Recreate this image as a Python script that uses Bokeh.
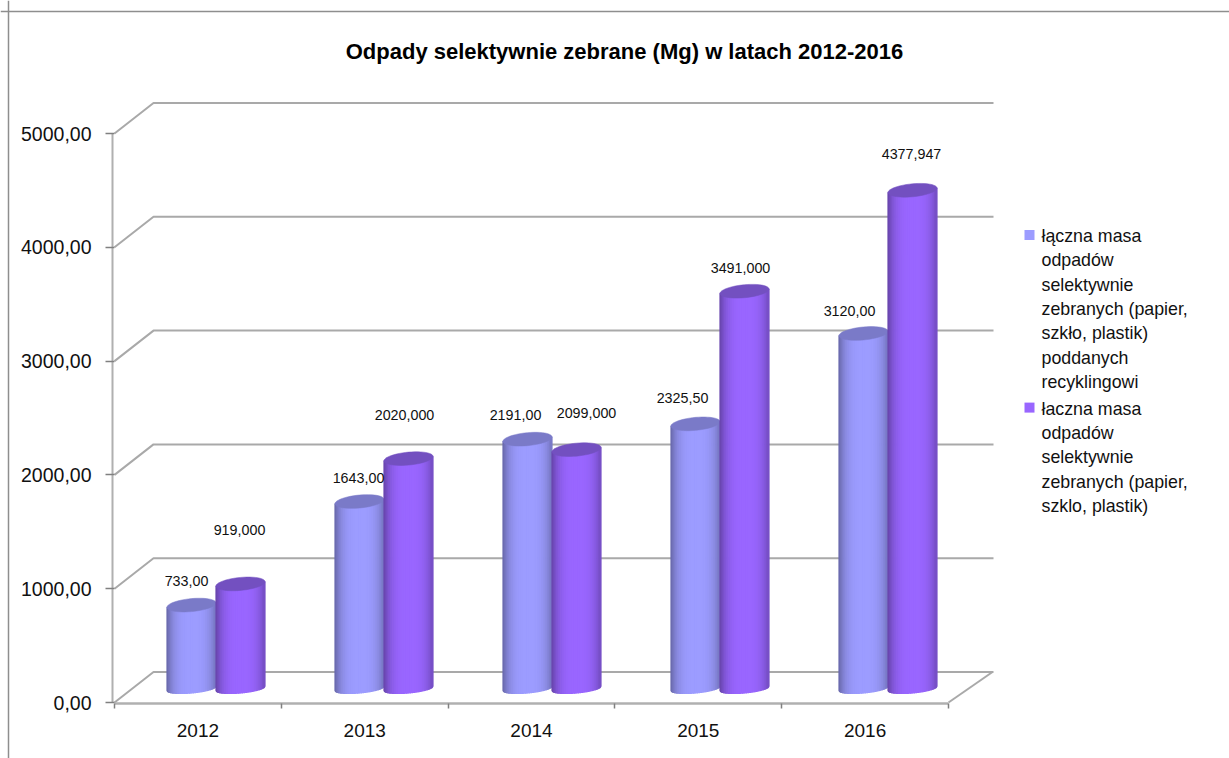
import math
from bokeh.core.properties import value
from bokeh.embed import file_html
from bokeh.models import ColumnDataSource, FixedTicker, Range1d, Span
from bokeh.plotting import figure
from bokeh.resources import INLINE

# ---- data -------------------------------------------------------------
years = ["2012", "2013", "2014", "2015", "2016"]
recycled = [733.0, 1643.0, 2191.0, 2325.5, 3120.0]
collected = [919.0, 2020.0, 2099.0, 3491.0, 4377.947]
recycled_labels = ["733,00", "1643,00", "2191,00", "2325,50", "3120,00"]
collected_labels = ["919,000", "2020,000", "2099,000", "3491,000", "4377,947"]
y_ticks = [0, 1000, 2000, 3000, 4000, 5000]
y_tick_labels = ["0,00", "1000,00", "2000,00", "3000,00", "4000,00", "5000,00"]
title = "Odpady selektywnie zebrane (Mg) w latach 2012-2016"
legend_lines = [
    ["łączna masa", "odpadów", "selektywnie", "zebranych (papier,", "szkło, plastik)", "poddanych", "recyklingowi"],
    ["łaczna masa", "odpadów", "selektywnie", "zebranych (papier,", "szklo, plastik)"],
]

# ---- layout / scale ----------------------------------------------------
W, H = 1229, 758
AX_X, AX_Y = 114, 702     # page pixel of x=0, y=0
SX, SY = 166.8, 0.1138    # pixels per category, pixels per unit


def dx(px):
    return (px - AX_X) / SX


def dy(py):
    return (AX_Y - py) / SY


SANS = "Liberation Sans"
FONT = value(SANS)
GRID = "#a9a9a9"
C1, C2 = (0x9C, 0x9C, 0xFF), (0x99, 0x66, 0xFF)
TOP1, TOP2 = "#7a7ac8", "#7350c0"

p = figure(
    width=W, height=H, output_backend="svg", toolbar_location=None,
    x_range=Range1d(dx(0), dx(W)), y_range=Range1d(dy(H), dy(0)),
    min_border=0, min_border_left=0, min_border_right=0, min_border_top=0, min_border_bottom=0,
    background_fill_color="white", border_fill_color="white",
)
p.outline_line_color = None
p.xgrid.visible = False
p.ygrid.visible = False

# outer frame of the picture: top and left edges only
p.add_layout(Span(location=dy(11), dimension="width", line_color="#8e8e8e", line_width=1.5))
p.add_layout(Span(location=dx(8), dimension="height", line_color="#8e8e8e", line_width=1.5))

# ---- 3D walls ----------------------------------------------------------
depth_x = 39 / SX
depth_y = 30.5 / SY
wall_end = (993 - AX_X) / SX
wall_xs = [[0, depth_x, wall_end] for _ in y_ticks]
wall_ys = [[v, v + depth_y, v + depth_y] for v in y_ticks]
wall_xs.append([len(years), (992 - AX_X) / SX])
wall_ys.append([0, depth_y])
p.multi_line(wall_xs, wall_ys, line_color=GRID, line_width=2)

# ---- axes --------------------------------------------------------------
yax = p.yaxis[0]
yax.fixed_location = dx(112)
yax.bounds = (0, 5000)
yax.ticker = FixedTicker(ticks=y_ticks)
yax.major_label_overrides = dict(zip(y_ticks, y_tick_labels))
yax.axis_line_color = "#b0b0b0"
yax.axis_line_width = 2
yax.major_tick_line_color = "#808080"
yax.major_tick_line_width = 1.5
yax.major_tick_in = 2
yax.major_tick_out = 7
yax.minor_tick_line_color = None
yax.major_label_standoff = 14
yax.major_label_text_font = SANS
yax.major_label_text_font_size = "19.5px"
yax.major_label_text_color = "#111111"

xax = p.xaxis[0]
xax.fixed_location = dy(703)
xax.bounds = (0, len(years))
centres = [i + 0.5 for i in range(len(years))]
xax.ticker = FixedTicker(ticks=centres, minor_ticks=list(range(len(years) + 1)))
xax.major_label_overrides = dict(zip(centres, years))
xax.axis_line_color = "#b0b0b0"
xax.axis_line_width = 2.5
xax.major_tick_line_color = None
xax.major_tick_in = 0
xax.major_tick_out = 6
xax.minor_tick_line_color = "#808080"
xax.minor_tick_line_width = 1.5
xax.minor_tick_in = 0
xax.minor_tick_out = 5
xax.major_label_standoff = 14
xax.major_label_text_font = SANS
xax.major_label_text_font_size = "19px"
xax.major_label_text_color = "#111111"

# ---- cylinders ---------------------------------------------------------
BASE = 14 / SY            # floor depth of the bar base
RX = 24.5 / SX
RY_TOP, RY_BASE = 6.5 / SY, 4.5 / SY
TILT = 2.2 / SY           # rise of the right side of an ellipse
GROUP0, STEP = 101.5 / SX, 168 / SX
STRIPS = 24


def shade(rgb, t):
    f = 1 - 0.30 * abs(t - 0.05) ** 3.2
    r, g, b = (int(round(c * f)) for c in rgb)
    return f"#{r:02x}{g:02x}{b:02x}"


def cylinder(cx, val, rgb, top_colour):
    xs, ys, cols = [], [], []
    ytop = val + BASE
    for k in range(STRIPS):
        t0 = -1 + 2 * k / STRIPS
        t1 = -1 + 2 * (k + 1) / STRIPS
        ts = [t0 + (t1 - t0) * j / 3 for j in range(4)]
        low = [BASE + TILT * t - RY_BASE * math.sqrt(max(0, 1 - t * t)) for t in ts]
        xs.append([cx + RX * t for t in ts] + [cx + RX * t1, cx + RX * t0])
        ys.append(low + [ytop + TILT * t1, ytop + TILT * t0])
        cols.append(shade(rgb, (t0 + t1) / 2))
    src = ColumnDataSource(dict(x=xs, y=ys, c=cols))
    p.patches("x", "y", source=src, fill_color="c", line_color="c", line_width=1.2)
    th = [2 * math.pi * j / 48 for j in range(48)]
    p.patch(
        [cx + RX * math.cos(a) for a in th],
        [ytop + RY_TOP * math.sin(a) + TILT * math.cos(a) for a in th],
        fill_color=top_colour, line_color=top_colour, line_width=0.5,
    )


for i in range(len(years)):
    c = GROUP0 + i * STEP
    cylinder(c - RX, recycled[i], C1, TOP1)
    cylinder(c + RX, collected[i], C2, TOP2)

# ---- data labels -------------------------------------------------------
group_x = [GROUP0 + i * STEP for i in range(len(years))]
r_src = ColumnDataSource(dict(
    x=[g - RX for g in group_x], y=[v + BASE for v in recycled], t=recycled_labels,
    xo=[-5, -1, -12, -13, -14], yo=[-24, -24, -24, -26, -22],
))
c_src = ColumnDataSource(dict(
    x=[g + RX for g in group_x], y=[v + BASE for v in collected], t=collected_labels,
    xo=[-1, -4, 10, -4, -1], yo=[-54, -44, -37, -23, -36],
))
for s in (r_src, c_src):
    p.text("x", "y", text="t", x_offset="xo", y_offset="yo", source=s,
           text_font=FONT, text_font_size="14.3px", text_color="#111111",
           text_align="center", text_baseline="middle")

# ---- title -------------------------------------------------------------
p.text([dx(624)], [dy(51)], text=[title], text_font=FONT, text_font_size="22px",
       text_font_style="bold", text_color="#000000", text_align="center", text_baseline="middle")

# ---- legend ------------------------------------------------------------
LEG_X, LEG_Y, LINE_H, ENTRY_GAP = 1041, 235.5, 24.3, 2.5
row = 0
for n, (lines, col) in enumerate(zip(legend_lines, ("#9c9cff", "#9966ff"))):
    y0 = LEG_Y + row * LINE_H + n * ENTRY_GAP
    p.quad(left=[dx(1024)], right=[dx(1034)], top=[dy(y0 - 6)], bottom=[dy(y0 + 4)],
           fill_color=col, line_color=None)
    p.text([dx(LEG_X)] * len(lines), [dy(y0 + j * LINE_H) for j in range(len(lines))], text=lines,
           text_font=FONT, text_font_size="17.8px", text_color="#111111",
           text_align="left", text_baseline="middle")
    row += len(lines)

open("out.html", "w").write(file_html(p, INLINE))
